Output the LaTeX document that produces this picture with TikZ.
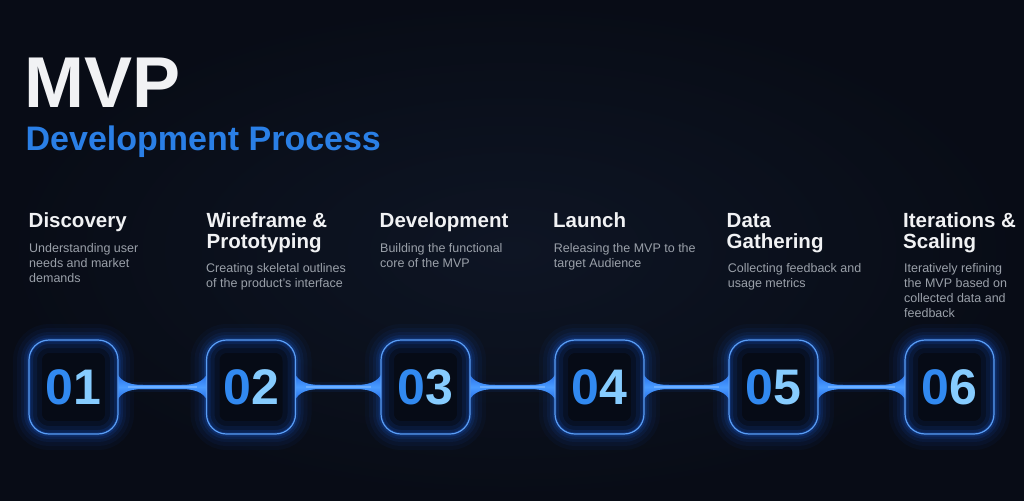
\documentclass[tikz,border=0pt]{standalone}
\usepackage{fontspec}
\setmainfont{Liberation Sans}
\usetikzlibrary{calc}
\definecolor{bgA}{HTML}{0E1524}
\definecolor{bgB}{HTML}{080C16}
\definecolor{glowc}{HTML}{1E6CFF}
\definecolor{edgec}{HTML}{5A9EF5}
\definecolor{boxfill}{HTML}{060B16}
\definecolor{titleblue}{HTML}{2A7FE6}
\definecolor{titlewhite}{HTML}{F1F2F4}
\definecolor{descc}{HTML}{9AA0A9}
\definecolor{digitA}{HTML}{3189F0}
\definecolor{digitB}{HTML}{86CCFF}
\definecolor{flareA}{HTML}{1A5FE0}
\definecolor{flareB}{HTML}{4A9BFF}
\pgfdeclarelayer{back}
\pgfsetlayers{back,main}
\begin{document}
\begin{tikzpicture}[x=1pt,y=-1pt,
  stepbox/.style={draw=edgec, line width=1.2pt, rounded corners=20pt,
    minimum width=89pt, minimum height=94pt, inner sep=0pt, outer sep=0pt,
    font=\fontsize{50}{50}\selectfont\bfseries},
  steptitle/.style={anchor=base west, inner sep=0pt, align=left, text=titlewhite,
    font=\fontsize{20.5}{21}\selectfont\bfseries},
  stepdesc/.style={anchor=base west, inner sep=0pt, align=left, text=descc,
    font=\fontsize{12.5}{15}\selectfont},
]
\useasboundingbox (0,0) rectangle (1024,500);
\begin{pgfonlayer}{back}
\shade[inner color=bgA, outer color=bgB] (0,0) rectangle (1024,500);
\end{pgfonlayer}

% heading
\node[anchor=base west, inner sep=0pt, text=titlewhite, font=\fontsize{72}{72}\selectfont\bfseries] (mvp) at (24,108) {MVP};
\node[anchor=base west, inner sep=0pt, text=titleblue, font=\fontsize{34}{34}\selectfont\bfseries] (sub) at (25.5,150) {Development Process};

% boxes
\node[stepbox] (b1) at (73.5,387) {\raisebox{-2pt}{\textcolor{digitA}{0}\textcolor{digitB}{1}}};
\node[stepbox] (b2) at (251,387) {\raisebox{-2pt}{\textcolor{digitA}{0}\textcolor{digitB}{2}}};
\node[stepbox] (b3) at (425.5,387) {\raisebox{-2pt}{\textcolor{digitA}{0}\textcolor{digitB}{3}}};
\node[stepbox] (b4) at (599.5,387) {\raisebox{-2pt}{\textcolor{digitA}{0}\textcolor{digitB}{4}}};
\node[stepbox] (b5) at (773.5,387) {\raisebox{-2pt}{\textcolor{digitA}{0}\textcolor{digitB}{5}}};
\node[stepbox] (b6) at (949.5,387) {\raisebox{-2pt}{\textcolor{digitA}{0}\textcolor{digitB}{6}}};

% titles (base anchor = baseline of last line)
\node[steptitle] (t1) at (28.5,227) {Discovery};
\node[steptitle] (t2) at (206.5,248) {Wireframe \&\\Prototyping};
\node[steptitle] (t3) at (379.5,227) {Development};
\node[steptitle] (t4) at (553,227) {Launch};
\node[steptitle] (t5) at (726.5,248) {Data\\Gathering};
\node[steptitle] (t6) at (903,248) {Iterations \&\\Scaling};

% descriptions (base anchor = baseline of last line)
\node[stepdesc] (d1) at (29,282) {Understanding user\\needs and market\\demands};
\node[stepdesc] (d2) at (206,287.5) {Creating skeletal outlines\\of the product's interface};
\node[stepdesc] (d3) at (380,267) {Building the functional\\core of the MVP};
\node[stepdesc] (d4) at (553.7,267) {Releasing the MVP to the\\target Audience};
\node[stepdesc] (d5) at (727.7,287.5) {Collecting feedback and\\usage metrics};
\node[stepdesc] (d6) at (904,317.5) {Iteratively refining\\the MVP based on\\collected data and\\feedback};

\begin{pgfonlayer}{back}
% outer glow
\foreach \n in {b1,b2,b3,b4,b5,b6}{
  \foreach \w/\o in {32/.04,24/.05,16/.07,10/.10,5/.16}{
    \draw[glowc, line width=\w pt, opacity=\o, rounded corners=20pt]
      (\n.south west) rectangle (\n.north east);
  }
}
% connectors
\foreach \a/\b in {b1/b2,b2/b3,b3/b4,b4/b5,b5/b6}{
  \draw[glowc, line width=10pt, opacity=.08] (\a.east) -- (\b.west);
  \draw[glowc, line width=6pt, opacity=.12] (\a.east) -- (\b.west);
  \shade[top color=flareA, bottom color=flareA, middle color=flareB]
    ($(\a.east)+(-2,-18)$) .. controls ($(\a.east)+(0,-7)$) and ($(\a.east)+(9,-2)$) .. ($(\a.east)+(25,-2)$)
    -- ($(\b.west)+(-25,-2)$) .. controls ($(\b.west)+(-9,-2)$) and ($(\b.west)+(0,-7)$) .. ($(\b.west)+(2,-18)$)
    -- ($(\b.west)+(2,18)$) .. controls ($(\b.west)+(0,7)$) and ($(\b.west)+(-9,2)$) .. ($(\b.west)+(-25,2)$)
    -- ($(\a.east)+(25,2)$) .. controls ($(\a.east)+(9,2)$) and ($(\a.east)+(0,7)$) .. ($(\a.east)+(-2,18)$)
    -- cycle;
  \draw[flareB!80!white, line width=1.2pt] ($(\a.east)+(10,0)$) -- ($(\b.west)+(-10,0)$);
}
% box fill and inner glow
\foreach \n in {b1,b2,b3,b4,b5,b6}{
  \fill[boxfill, rounded corners=20pt] (\n.south west) rectangle (\n.north east);
  \begin{scope}
    \clip[rounded corners=20pt] (\n.south west) rectangle (\n.north east);
    \foreach \w/\o in {26/.07,16/.09,8/.13,3/.22}{
      \draw[glowc, line width=\w pt, opacity=\o, rounded corners=20pt]
        (\n.south west) rectangle (\n.north east);
    }
  \end{scope}
}
\end{pgfonlayer}
\end{tikzpicture}
\end{document}
